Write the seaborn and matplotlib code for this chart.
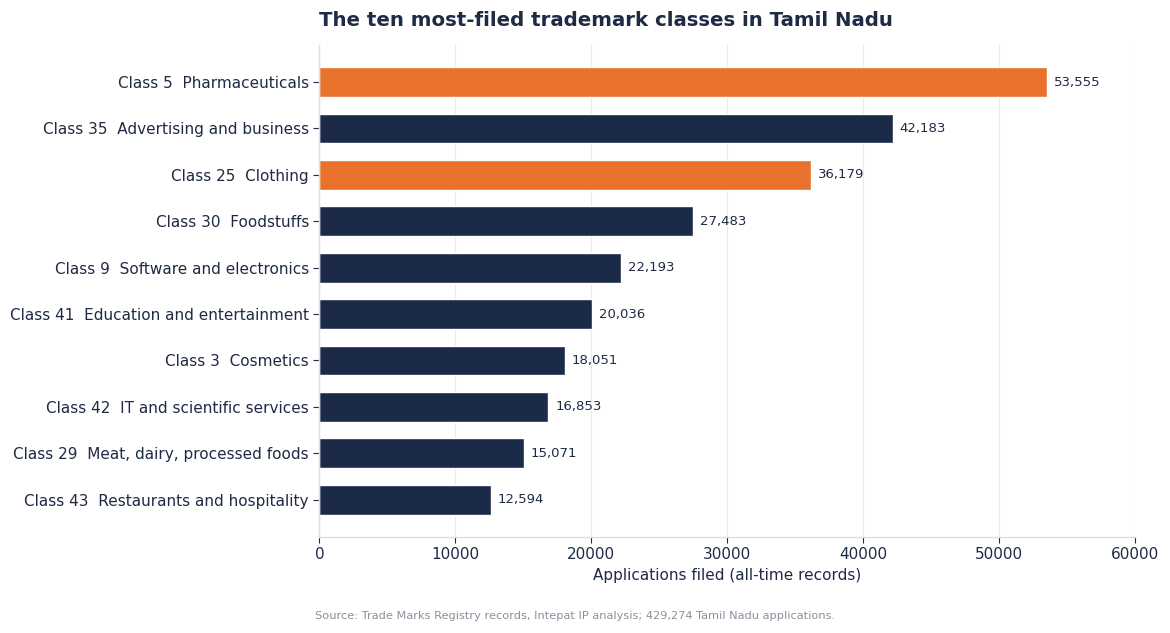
import matplotlib
matplotlib.use("Agg")
import matplotlib.pyplot as plt
import seaborn as sns
import pandas as pd

# data
classes = [
    "Class 5  Pharmaceuticals",
    "Class 35  Advertising and business",
    "Class 25  Clothing",
    "Class 30  Foodstuffs",
    "Class 9  Software and electronics",
    "Class 41  Education and entertainment",
    "Class 3  Cosmetics",
    "Class 42  IT and scientific services",
    "Class 29  Meat, dairy, processed foods",
    "Class 43  Restaurants and hospitality",
]
applications = [53555, 42183, 36179, 27483, 22193, 20036, 18051, 16853, 15071, 12594]
highlight = [True, False, True, False, False, False, False, False, False, False]

NAVY = "#1c2a4a"
ORANGE = "#e8722c"
TEXT = "#1f2a44"

df = pd.DataFrame({"cls": classes, "apps": applications, "hl": highlight})
palette = {c: (ORANGE if h else NAVY) for c, h in zip(classes, highlight)}

sns.set_theme(style="whitegrid")
plt.rcParams["font.family"] = ["DejaVu Sans"]

fig = plt.figure(figsize=(11.7, 6.33), dpi=100)
ax = fig.add_axes([0.273, 0.152, 0.697, 0.777])

sns.barplot(data=df, x="apps", y="cls", hue="cls", palette=palette,
            legend=False, width=0.64, saturation=1, ax=ax)

for p, v in zip(ax.patches, applications):
    ax.text(p.get_width() + 500, p.get_y() + p.get_height() / 2, f"{v:,}",
            va="center", ha="left", fontsize=9.5, color=TEXT)

ax.set_xlim(0, 60000)
ax.set_ylim(len(classes) - 0.2, -0.8)
ax.set_xticks([0, 10000, 20000, 30000, 40000, 50000, 60000])
ax.set_xlabel("Applications filed (all-time records)", fontsize=11, color=TEXT, labelpad=5)
ax.set_ylabel("")
ax.grid(axis="y", visible=False)
ax.grid(axis="x", color="#ebebeb", linewidth=0.9)
ax.set_axisbelow(True)
for s in ["top", "right"]:
    ax.spines[s].set_visible(False)
for s in ["left", "bottom"]:
    ax.spines[s].set_color("#dddddd")
    ax.spines[s].set_linewidth(1)
ax.tick_params(axis="both", colors=TEXT, labelsize=11, length=4, width=0.8,
               direction="out", left=True, bottom=True)
ax.tick_params(axis="x", pad=3)
ax.tick_params(axis="y", pad=3.5)

fig.text(0.273, 0.968, "The ten most-filed trademark classes in Tamil Nadu",
         fontsize=14.2, fontweight="bold", color=TEXT, ha="left", va="center")
fig.text(0.269, 0.027,
         "Source: Trade Marks Registry records, Intepat IP analysis; 429,274 Tamil Nadu applications.",
         fontsize=8.2, color="#8a909c", ha="left", va="center")

fig.savefig("out.png", dpi=100)
